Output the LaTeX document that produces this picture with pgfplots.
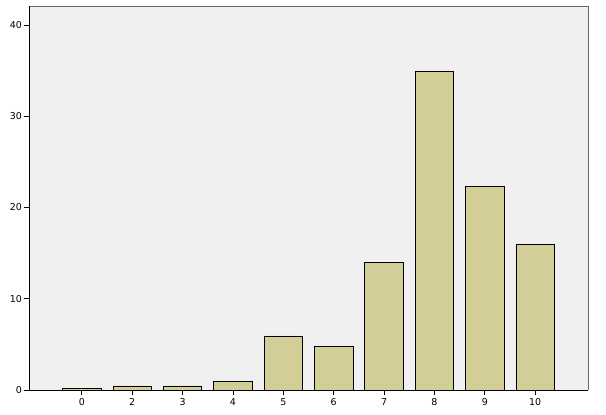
\documentclass[border=0pt]{standalone}
\usepackage{pgfplots}
\pgfplotsset{compat=1.18}
\usepackage{fontspec}
\setmainfont{DejaVu Sans}
\definecolor{barfill}{RGB}{211,206,151}
\definecolor{bgc}{RGB}{240,240,240}
\begin{document}
\begin{tikzpicture}
\begin{axis}[
  scale only axis,
  width=559bp, height=384bp,
  xmin=-1.05, xmax=10.05,
  ymin=0, ymax=42.08,
  xtick=data,
  xticklabels={0,2,3,4,5,6,7,8,9,10},
  ytick={0,10,20,30,40},
  tick align=outside,
  tick pos=left,
  major tick length=5bp,
  tick style={black, line width=0.8pt},
  axis background/.style={fill=bgc},
  axis line style={draw=none},
  ticklabel style={font=\fontsize{9.5}{11}\selectfont},
  /pgf/number format/assume math mode=true,
  xticklabel style={yshift=0bp},
  yticklabel style={xshift=1.5bp},
  clip=false,
]
\addplot[ybar, bar width=38.4bp, fill=barfill, draw=black, line width=0.7pt]
  coordinates {(0,0.2) (1,0.45) (2,0.45) (3,0.9) (4,5.92) (5,4.75) (6,14.0) (7,34.9) (8,22.3) (9,15.97)};
\draw[black!60, line width=0.9pt] (rel axis cs:0,1) -- (rel axis cs:1,1) -- (rel axis cs:1,0);
\draw[black, line width=0.9pt] (rel axis cs:0,1) -- (rel axis cs:0,0) -- (rel axis cs:1,0);
\end{axis}
\path (current axis.south west) ++(-29bp,-25bp) coordinate (bl);
\path (current axis.north east) ++(18bp,6bp) coordinate (tr);
\path (bl) rectangle (tr);
\end{tikzpicture}
\end{document}
